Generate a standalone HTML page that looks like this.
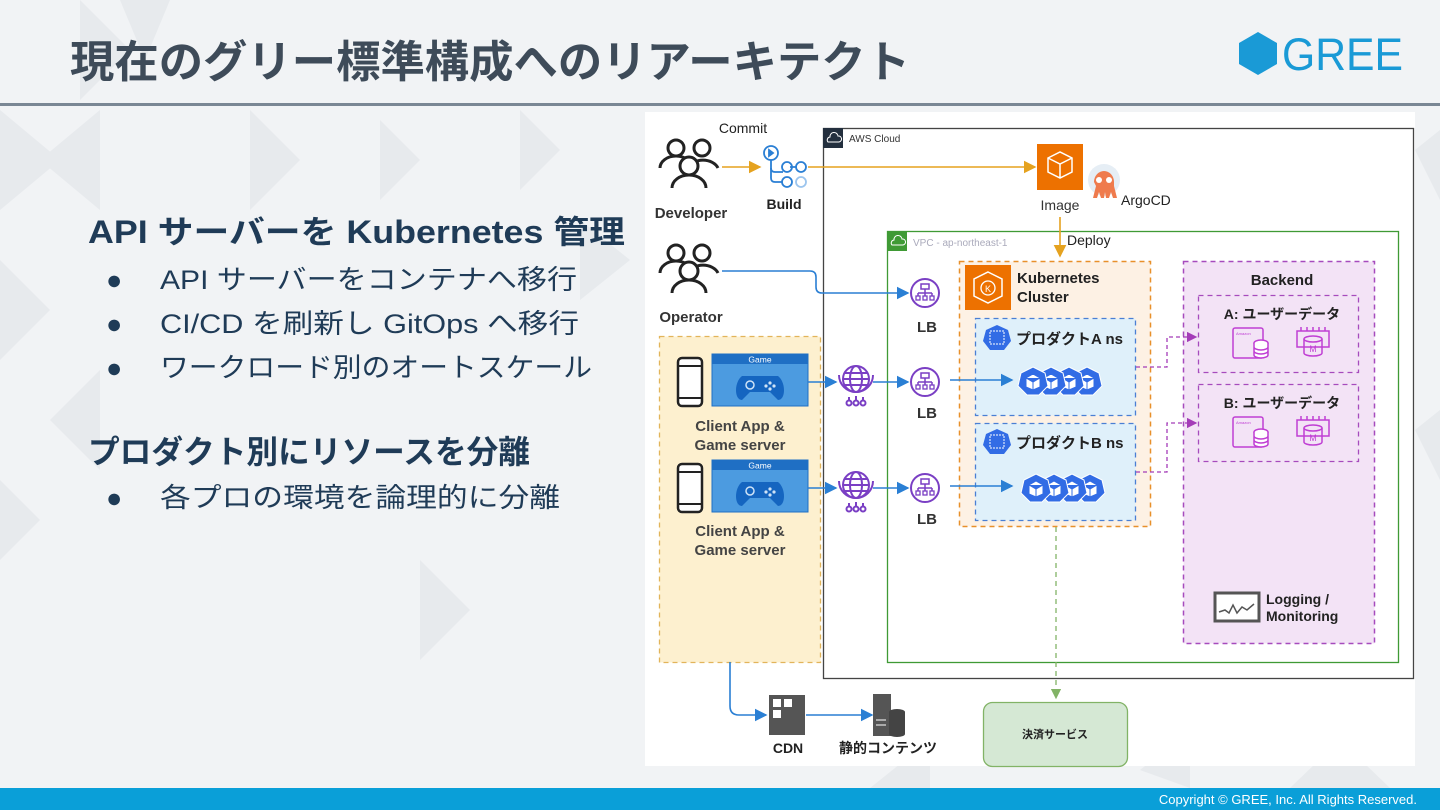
<!DOCTYPE html>
<html><head><meta charset="utf-8"><style>
html,body{margin:0;padding:0;width:1440px;height:810px;overflow:hidden;background:#f1f3f5;}
svg{display:block}
text{font-family:"Liberation Sans","Noto Sans CJK JP",sans-serif;}
</style></head><body>
<svg width="1440" height="810" viewBox="0 0 1440 810" xmlns="http://www.w3.org/2000/svg">
<defs>
<marker id="ay" markerWidth="8" markerHeight="8" refX="7" refY="4" orient="auto"><path d="M0,0 L8,4 L0,8 Z" fill="#e5a21f"/></marker>
<marker id="ab" markerWidth="8" markerHeight="8" refX="7" refY="4" orient="auto"><path d="M0,0 L8,4 L0,8 Z" fill="#2a7fd4"/></marker>
<marker id="ap" markerWidth="8" markerHeight="8" refX="7" refY="4" orient="auto"><path d="M0,0 L8,4 L0,8 Z" fill="#a43cb8"/></marker>
<marker id="ag" markerWidth="8" markerHeight="8" refX="7" refY="4" orient="auto"><path d="M0,0 L8,4 L0,8 Z" fill="#82b366"/></marker>
<g id="ppl" fill="none" stroke="#222" stroke-width="3">
<circle cx="-12" cy="-22" r="8"/><path d="M-28,-2 a16,12 0 0 1 32,0"/>
<circle cx="14" cy="-22" r="8"/><path d="M0,-2 a16,12 0 0 1 30,0"/>
<circle cx="1" cy="-4" r="9" fill="#fff"/><path d="M-16,18 a17,13 0 0 1 34,0" fill="#fff"/>
</g>
<g id="lb"><circle r="14" fill="#fff" stroke="#7a3fc4" stroke-width="2"/><rect x="-4" y="-9" width="8" height="5" fill="none" stroke="#7a3fc4" stroke-width="1.5"/><path d="M0,-4 V0 M-7,0 H7 M-7,0 V3 M0,0 V3 M7,0 V3" stroke="#7a3fc4" stroke-width="1.5"/><rect x="-9" y="3" width="4" height="4" fill="none" stroke="#7a3fc4" stroke-width="1.3"/><rect x="-2" y="3" width="4" height="4" fill="none" stroke="#7a3fc4" stroke-width="1.3"/><rect x="5" y="3" width="4" height="4" fill="none" stroke="#7a3fc4" stroke-width="1.3"/></g>
<g id="globe" fill="none" stroke="#7a3fc4" stroke-width="2"><circle r="13"/><ellipse rx="6" ry="13"/><path d="M-13,0 H13 M-11,-6 H11 M-11,6 H11"/><path d="M-17,-4 a17,17 0 0 0 34,0"/><path d="M0,17 V22 M-7,18 V22 M7,18 V22"/><circle cx="-7" cy="24" r="2.5"/><circle cx="0" cy="24" r="2.5"/><circle cx="7" cy="24" r="2.5"/></g>
<g id="pod"><polygon points="0,-14 12,-8 15,5 6,14 -6,14 -15,5 -12,-8" fill="#326ce5" stroke="#fff" stroke-width="1"/><path d="M-7,-3 L0,-7 L7,-3 V6 L0,9 L-7,6 Z M-7,-3 L0,1 L7,-3 M0,1 V9" fill="#fff" stroke="#326ce5" stroke-width="1"/></g>
<g id="game"><rect x="0" y="0" width="96" height="52" fill="#4c9be0" stroke="#1f6fc4" stroke-width="1"/><rect x="0" y="0" width="96" height="10" fill="#1f6fc4"/><text x="48" y="8.5" font-size="8.5" fill="#fff" text-anchor="middle">Game</text><path d="M30,46 C22,46 22,28 30,22 H66 C74,28 74,46 66,46 L58,38 H38 Z" fill="#1565c0"/><circle cx="38" cy="31" r="4" fill="none" stroke="#cfe3f7" stroke-width="1.5"/><circle cx="58" cy="29" r="1.6" fill="#cfe3f7"/><circle cx="62" cy="32" r="1.6" fill="#cfe3f7"/><circle cx="54" cy="32" r="1.6" fill="#cfe3f7"/><circle cx="58" cy="35" r="1.6" fill="#cfe3f7"/></g>
<g id="phone"><rect x="0" y="0" width="24" height="48" rx="4" fill="#fff" stroke="#222" stroke-width="2.5"/><path d="M0,8 H24 M0,40 H24" stroke="#222" stroke-width="2"/></g>
<g id="db" fill="none" stroke="#c03fd4" stroke-width="1.5"><rect x="-18" y="-15" width="30" height="30" rx="2"/><text x="-15" y="-8" font-size="4" fill="#c03fd4" stroke="none">Amazon</text><ellipse cx="10" cy="0" rx="7" ry="3" fill="#fff"/><path d="M3,0 V12 a7,3 0 0 0 14,0 V0 M3,4 a7,3 0 0 0 14,0 M3,8 a7,3 0 0 0 14,0" fill="#fff"/></g>
<g id="mc" fill="none" stroke="#c03fd4" stroke-width="1.5"><rect x="-16" y="-12" width="32" height="16"/><path d="M-12,-12 V-16 M-6,-12 V-16 M0,-12 V-16 M6,-12 V-16 M12,-12 V-16"/><path d="M-9,-4 V10 a9,3 0 0 0 18,0 V-4"/><ellipse cx="0" cy="-4" rx="9" ry="3"/><text x="0" y="9" font-size="9" fill="#c03fd4" stroke="none" text-anchor="middle">M</text></g>
</defs>

<!-- background triangles -->
<g fill="#e7eaed">
<polygon points="0,110 60,160 0,210"/><polygon points="40,160 100,110 100,210"/><polygon points="0,260 50,310 0,360"/>
<polygon points="50,420 100,370 100,470"/><polygon points="0,480 40,520 0,560"/><polygon points="250,110 300,160 250,210"/>
<polygon points="380,120 420,160 380,200"/><polygon points="520,110 560,150 520,190"/><polygon points="580,220 630,260 580,300"/>
<polygon points="420,560 470,610 420,660"/><polygon points="1415,150 1440,130 1440,200"/><polygon points="1415,430 1440,410 1440,480"/>
<polygon points="1140,770 1190,730 1190,788"/><polygon points="1290,788 1340,740 1390,788"/><polygon points="870,788 930,740 930,788"/>
<polygon points="80,0 130,50 80,100"/><polygon points="120,0 170,0 145,60"/>
</g>
<!-- header -->
<text x="70" y="77" font-size="44" font-weight="bold" fill="#3e4b59" textLength="840" lengthAdjust="spacingAndGlyphs">現在のグリー標準構成へのリアーキテクト</text>
<polygon points="1258,32 1277,43 1277,64 1258,75 1239,64 1239,43" fill="#1a9ad6"/>
<text x="1282" y="70" font-size="45" fill="#1a9ad6" textLength="121" lengthAdjust="spacingAndGlyphs">GREE</text>
<rect x="0" y="103" width="1440" height="3" fill="#7a8794"/>

<!-- left text -->
<text x="88" y="243" font-size="32" font-weight="bold" fill="#1f3b57" textLength="537" lengthAdjust="spacingAndGlyphs">API サーバーを  Kubernetes 管理</text>
<g font-size="27" fill="#1f3b57">
<text x="106" y="289">●</text><text x="160" y="289" textLength="417" lengthAdjust="spacingAndGlyphs">API サーバーをコンテナへ移行</text>
<text x="106" y="333">●</text><text x="160" y="333" textLength="419" lengthAdjust="spacingAndGlyphs">CI/CD を刷新し GitOps へ移行</text>
<text x="106" y="377">●</text><text x="160" y="377" textLength="432" lengthAdjust="spacingAndGlyphs">ワークロード別のオートスケール</text>
</g>
<text x="88" y="463" font-size="32" font-weight="bold" fill="#1f3b57" textLength="442" lengthAdjust="spacingAndGlyphs">プロダクト別にリソースを分離</text>
<g font-size="27" fill="#1f3b57"><text x="106" y="507">●</text><text x="160" y="507" textLength="400" lengthAdjust="spacingAndGlyphs">各プロの環境を論理的に分離</text></g>

<!-- diagram white area -->
<rect x="645" y="112" width="770" height="654" fill="#fff"/>

<!-- AWS cloud -->
<rect x="823.5" y="128.5" width="590" height="550" fill="none" stroke="#444" stroke-width="1.3"/>
<rect x="823" y="128" width="20" height="20" fill="#232f3e"/>
<path d="M828,142 h11 a3,3 0 0 0 -1,-6 a4,4 0 0 0 -8,1 a3,3 0 0 0 -2,5z" fill="none" stroke="#fff" stroke-width="1"/>
<text x="849" y="142" font-size="10" fill="#333">AWS Cloud</text>
<!-- VPC -->
<rect x="887.5" y="231.5" width="511" height="431" fill="none" stroke="#3f9a35" stroke-width="1.3"/>
<rect x="887" y="231" width="20" height="20" fill="#3f9a35"/>
<path d="M892,245 h11 a3,3 0 0 0 -1,-6 a4,4 0 0 0 -8,1 a3,3 0 0 0 -2,5z" fill="none" stroke="#fff" stroke-width="1"/>
<text x="913" y="246" font-size="10" fill="#aab">VPC - ap-northeast-1</text>

<!-- client box -->
<rect x="659.5" y="336.5" width="161" height="326" fill="#fdf0cf" stroke="#e2b45a" stroke-width="1.3" stroke-dasharray="5,4"/>
<use href="#phone" x="678" y="358"/><use href="#game" x="712" y="354"/>
<text x="740" y="431" font-size="15" font-weight="bold" fill="#444" text-anchor="middle">Client App &amp;</text>
<text x="740" y="450" font-size="15" font-weight="bold" fill="#444" text-anchor="middle">Game server</text>
<use href="#phone" x="678" y="464"/><use href="#game" x="712" y="460"/>
<text x="740" y="536" font-size="15" font-weight="bold" fill="#444" text-anchor="middle">Client App &amp;</text>
<text x="740" y="555" font-size="15" font-weight="bold" fill="#444" text-anchor="middle">Game server</text>

<!-- people -->
<use href="#ppl" x="688" y="170"/><text x="691" y="218" font-size="15" font-weight="bold" fill="#333" text-anchor="middle">Developer</text>
<use href="#ppl" x="688" y="275"/><text x="691" y="322" font-size="15" font-weight="bold" fill="#333" text-anchor="middle">Operator</text>
<text x="743" y="133" font-size="14" fill="#222" text-anchor="middle">Commit</text>
<!-- build icon -->
<g fill="none" stroke="#2a7fd4" stroke-width="1.8"><circle cx="771" cy="153" r="7"/><path d="M769,150 l4,3 l-4,3z" fill="#2a7fd4"/><path d="M771,160 v8 q0,4 4,4 h8 M790,167 h6"/><circle cx="787" cy="167" r="5"/><circle cx="801" cy="167" r="5"/><circle cx="787" cy="182" r="5"/><circle cx="801" cy="182" r="5" stroke="#9cc5ee"/><path d="M771,168 v10 q0,4 4,4 h7"/></g>
<text x="784" y="209" font-size="14" font-weight="bold" fill="#222" text-anchor="middle">Build</text>
<path d="M722,167 H760" stroke="#e5a21f" stroke-width="1.6" fill="none" marker-end="url(#ay)"/>
<path d="M808,167 H1035" stroke="#e5a21f" stroke-width="1.6" fill="none" marker-end="url(#ay)"/>
<!-- image -->
<rect x="1037" y="144" width="46" height="46" fill="#ed7100"/>
<path d="M1048,158 l12,-6 l12,6 v14 l-12,6 l-12,-6z M1048,158 l12,6 l12,-6 M1060,164 v14" fill="none" stroke="#fff" stroke-width="1.5"/>
<text x="1060" y="210" font-size="14" fill="#333" text-anchor="middle">Image</text>
<!-- argo -->
<circle cx="1104" cy="180" r="16" fill="#e6eef5"/>
<path d="M1094,182 a10,11 0 0 1 20,0 v4 l3,12 h-4 l-2,-6 l-2,6 h-3 l-1,-6 l-1,6 h-3 l-2,-6 l-2,6 h-4 l3,-12z" fill="#ef7b4d"/>
<circle cx="1099" cy="180" r="3" fill="#fff"/><circle cx="1109" cy="180" r="3" fill="#fff"/>
<text x="1121" y="205" font-size="14" fill="#222">ArgoCD</text>
<path d="M1060,217 V256" stroke="#e5a21f" stroke-width="1.6" fill="none" marker-end="url(#ay)"/>
<text x="1067" y="245" font-size="14" fill="#222">Deploy</text>

<path d="M722,271 H810 q6,0 6,6 v10 q0,6 6,6 H908" stroke="#2a7fd4" stroke-width="1.6" fill="none" marker-end="url(#ab)"/>
<use href="#lb" x="925" y="293"/><text x="927" y="332" font-size="15" font-weight="bold" fill="#333" text-anchor="middle">LB</text>
<use href="#lb" x="925" y="382"/><text x="927" y="418" font-size="15" font-weight="bold" fill="#333" text-anchor="middle">LB</text>
<use href="#lb" x="925" y="488"/><text x="927" y="524" font-size="15" font-weight="bold" fill="#333" text-anchor="middle">LB</text>
<use href="#globe" x="856" y="379"/><use href="#globe" x="856" y="485"/>
<g stroke="#2a7fd4" stroke-width="1.6" fill="none">
<path d="M808,382 H836" marker-end="url(#ab)"/><path d="M873,382 H908" marker-end="url(#ab)"/>
<path d="M808,488 H836" marker-end="url(#ab)"/><path d="M873,488 H908" marker-end="url(#ab)"/>
<path d="M730,662 V706 q0,9 9,9 H766" marker-end="url(#ab)"/><path d="M806,715 H872" marker-end="url(#ab)"/>
</g>

<!-- k8s cluster -->
<rect x="959.5" y="261.5" width="191" height="265" fill="#fdf1e4" stroke="#e8902a" stroke-width="1.5" stroke-dasharray="5,4"/>
<rect x="965" y="265" width="46" height="45" fill="#ed7100"/>
<polygon points="988,272 1002,279 1002,296 988,303 974,296 974,279" fill="none" stroke="#fff" stroke-width="1.5"/>
<circle cx="988" cy="288" r="7" fill="none" stroke="#fff" stroke-width="1.3"/><text x="988" y="292" font-size="9" fill="#fff" text-anchor="middle">K</text>
<text x="1017" y="283" font-size="15" font-weight="bold" fill="#222">Kubernetes</text>
<text x="1017" y="302" font-size="15" font-weight="bold" fill="#222">Cluster</text>
<rect x="975.5" y="318.5" width="160" height="97" fill="#dff0fa" stroke="#4a7fd4" stroke-width="1.3" stroke-dasharray="5,4"/>
<rect x="975.5" y="423.5" width="160" height="97" fill="#dff0fa" stroke="#4a7fd4" stroke-width="1.3" stroke-dasharray="5,4"/>
<polygon points="997,325 1008,330 1011,341 1004,350 990,350 983,341 986,330" fill="#326ce5"/><rect x="990" y="331" width="14" height="13" fill="none" stroke="#fff" stroke-dasharray="2,1"/>
<text x="1016" y="344" font-size="15" font-weight="bold" fill="#222">プロダクトA ns</text>
<polygon points="997,429 1008,434 1011,445 1004,454 990,454 983,445 986,434" fill="#326ce5"/><rect x="990" y="435" width="14" height="13" fill="none" stroke="#fff" stroke-dasharray="2,1"/>
<text x="1016" y="448" font-size="15" font-weight="bold" fill="#222">プロダクトB ns</text>
<use href="#pod" x="1087" y="381"/><use href="#pod" x="1069" y="381"/><use href="#pod" x="1051" y="381"/><use href="#pod" x="1033" y="381"/>
<use href="#pod" x="1090" y="488"/><use href="#pod" x="1072" y="488"/><use href="#pod" x="1054" y="488"/><use href="#pod" x="1036" y="488"/>
<path d="M950,380 H1012" stroke="#2a7fd4" stroke-width="1.6" marker-end="url(#ab)"/>
<path d="M950,486 H1012" stroke="#2a7fd4" stroke-width="1.6" marker-end="url(#ab)"/>

<!-- backend -->
<rect x="1183.5" y="261.5" width="191" height="382" fill="#f3e3f6" stroke="#a64bbd" stroke-width="1.5" stroke-dasharray="5,4"/>
<text x="1282" y="285" font-size="15" font-weight="bold" fill="#222" text-anchor="middle">Backend</text>
<rect x="1198.5" y="295.5" width="160" height="77" fill="none" stroke="#a64bbd" stroke-width="1.3" stroke-dasharray="5,4"/>
<rect x="1198.5" y="384.5" width="160" height="77" fill="none" stroke="#a64bbd" stroke-width="1.3" stroke-dasharray="5,4"/>
<text x="1282" y="319" font-size="14" font-weight="bold" fill="#222" text-anchor="middle">A: ユーザーデータ</text>
<text x="1282" y="408" font-size="14" font-weight="bold" fill="#222" text-anchor="middle">B: ユーザーデータ</text>
<use href="#db" x="1251" y="343"/><use href="#mc" x="1313" y="343"/>
<use href="#db" x="1251" y="432"/><use href="#mc" x="1313" y="432"/>
<g stroke="#a43cb8" stroke-width="1.3" fill="none" stroke-dasharray="4,3">
<path d="M1136,367 H1167 V337 H1196" marker-end="url(#ap)"/>
<path d="M1136,472 H1167 V423 H1196" marker-end="url(#ap)"/>
</g>
<rect x="1215" y="593" width="44" height="28" fill="#fff" stroke="#555" stroke-width="3"/>
<path d="M1219,612 l6,-2 l4,3 l4,-8 l4,8 l5,-6 l5,3 l7,-6" fill="none" stroke="#555" stroke-width="1.5"/>
<text x="1266" y="604" font-size="14" font-weight="bold" fill="#222">Logging /</text>
<text x="1266" y="621" font-size="14" font-weight="bold" fill="#222">Monitoring</text>

<!-- payment -->
<path d="M1056,527 V698" stroke="#82b366" stroke-width="1.3" stroke-dasharray="5,4" fill="none" marker-end="url(#ag)"/>
<rect x="983.5" y="702.5" width="144" height="64" rx="9" fill="#d5e8d4" stroke="#82b366" stroke-width="1.3"/>
<text x="1055" y="738" font-size="11" font-weight="bold" fill="#222" text-anchor="middle">決済サービス</text>

<!-- CDN / static -->
<rect x="769" y="695" width="36" height="40" fill="#555"/>
<rect x="773" y="699" width="8" height="8" fill="#fff"/><rect x="784" y="699" width="8" height="8" fill="#fff"/><rect x="773" y="710" width="8" height="8" fill="#fff"/>
<text x="788" y="753" font-size="14" font-weight="bold" fill="#222" text-anchor="middle">CDN</text>
<rect x="873" y="694" width="18" height="42" fill="#555"/><path d="M876,720 h10 M876,725 h10" stroke="#fff"/>
<ellipse cx="897" cy="712" rx="8" ry="3" fill="#444"/><rect x="889" y="712" width="16" height="22" fill="#444"/><ellipse cx="897" cy="734" rx="8" ry="3" fill="#444"/>
<text x="888" y="753" font-size="14" font-weight="bold" fill="#222" text-anchor="middle">静的コンテンツ</text>

<!-- footer -->
<rect x="0" y="788" width="1440" height="22" fill="#0a9fd8"/>
<text x="1417" y="804" font-size="13" fill="#fff" text-anchor="end">Copyright © GREE, Inc. All Rights Reserved.</text>
</svg>
</body></html>
